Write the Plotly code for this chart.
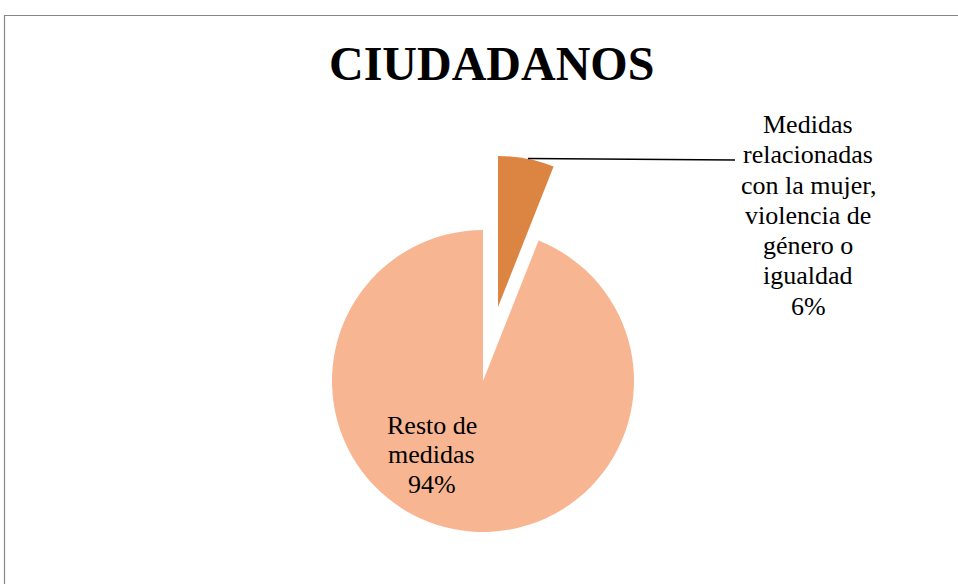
import plotly.graph_objects as go

# ---- data ----
title_text = "CIUDADANOS"
categories = ["Medidas relacionadas con la mujer, violencia de género o igualdad",
              "Resto de medidas"]
values = [6, 94]
label_lines = [["Medidas", "relacionadas", "con la mujer,", "violencia de", "género o", "igualdad"],
               ["Resto de", "medidas"]]
colors = ["#DC8442", "#F8B592"]

W, H = 958, 584
FONT = "Liberation Serif"
total = sum(values)
pct = [f"{round(v / total * 100)}%" for v in values]

TRANSP = "rgba(0,0,0,0)"


def px_dom(cx, cy, r):
    return dict(x=[(cx - r) / W, (cx + r) / W], y=[(H - (cy + r)) / H, (H - (cy - r)) / H])


fig = go.Figure()
# main body of the pie (the small slice left empty)
fig.add_trace(go.Pie(
    labels=categories, values=values, sort=False, direction="clockwise", rotation=0,
    marker=dict(colors=[TRANSP, colors[1]], line=dict(width=0)),
    textinfo="none", hoverinfo="skip", showlegend=False,
    domain=px_dom(483, 381, 151),
))
# exploded slice
fig.add_trace(go.Pie(
    labels=categories, values=values, sort=False, direction="clockwise", rotation=0,
    marker=dict(colors=[colors[0], TRANSP], line=dict(width=0)),
    textinfo="none", hoverinfo="skip", showlegend=False,
    domain=px_dom(498, 307, 151),
))

LSIZE = 26
annots = []
label_pos = [(808, 133, 30.3), (431.5, 434, 29.5)]  # center x, first baseline, line step (px)
for i in range(len(values)):
    cx, base0, step = label_pos[i]
    lines = label_lines[i] + [pct[i]]
    for j, ln in enumerate(lines):
        yb = base0 + j * step
        annots.append(dict(text=ln, x=cx / W, y=1 - (yb - 0.33 * LSIZE) / H,
                           xref="paper", yref="paper", showarrow=False,
                           xanchor="center", yanchor="middle", align="center",
                           font=dict(family=FONT, size=LSIZE, color="black")))
annots.append(dict(text=f"<b>{title_text}</b>", x=491 / W, y=1 - 63 / H, xref="paper", yref="paper",
                   showarrow=False, xanchor="center", yanchor="middle",
                   font=dict(family=FONT, size=48, color="black")))

fig.update_layout(
    width=W, height=H, margin=dict(l=0, r=0, t=0, b=0),
    paper_bgcolor="white", plot_bgcolor="white",
    annotations=annots,
    shapes=[
        dict(type="rect", xref="paper", yref="paper", x0=4.5 / W, x1=1.05, y0=-0.05, y1=1 - 15.5 / H,
             line=dict(color="#878787", width=1.2), fillcolor=TRANSP, layer="below"),
        dict(type="line", xref="paper", yref="paper", x0=528 / W, y0=1 - 158.5 / H, x1=735 / W, y1=1 - 160 / H,
             line=dict(color="black", width=1.5)),
    ],
)

fig.write_html("out.html", config={"displayModeBar": False},
               post_script="document.body.style.margin='0';document.body.style.overflow='hidden';")
